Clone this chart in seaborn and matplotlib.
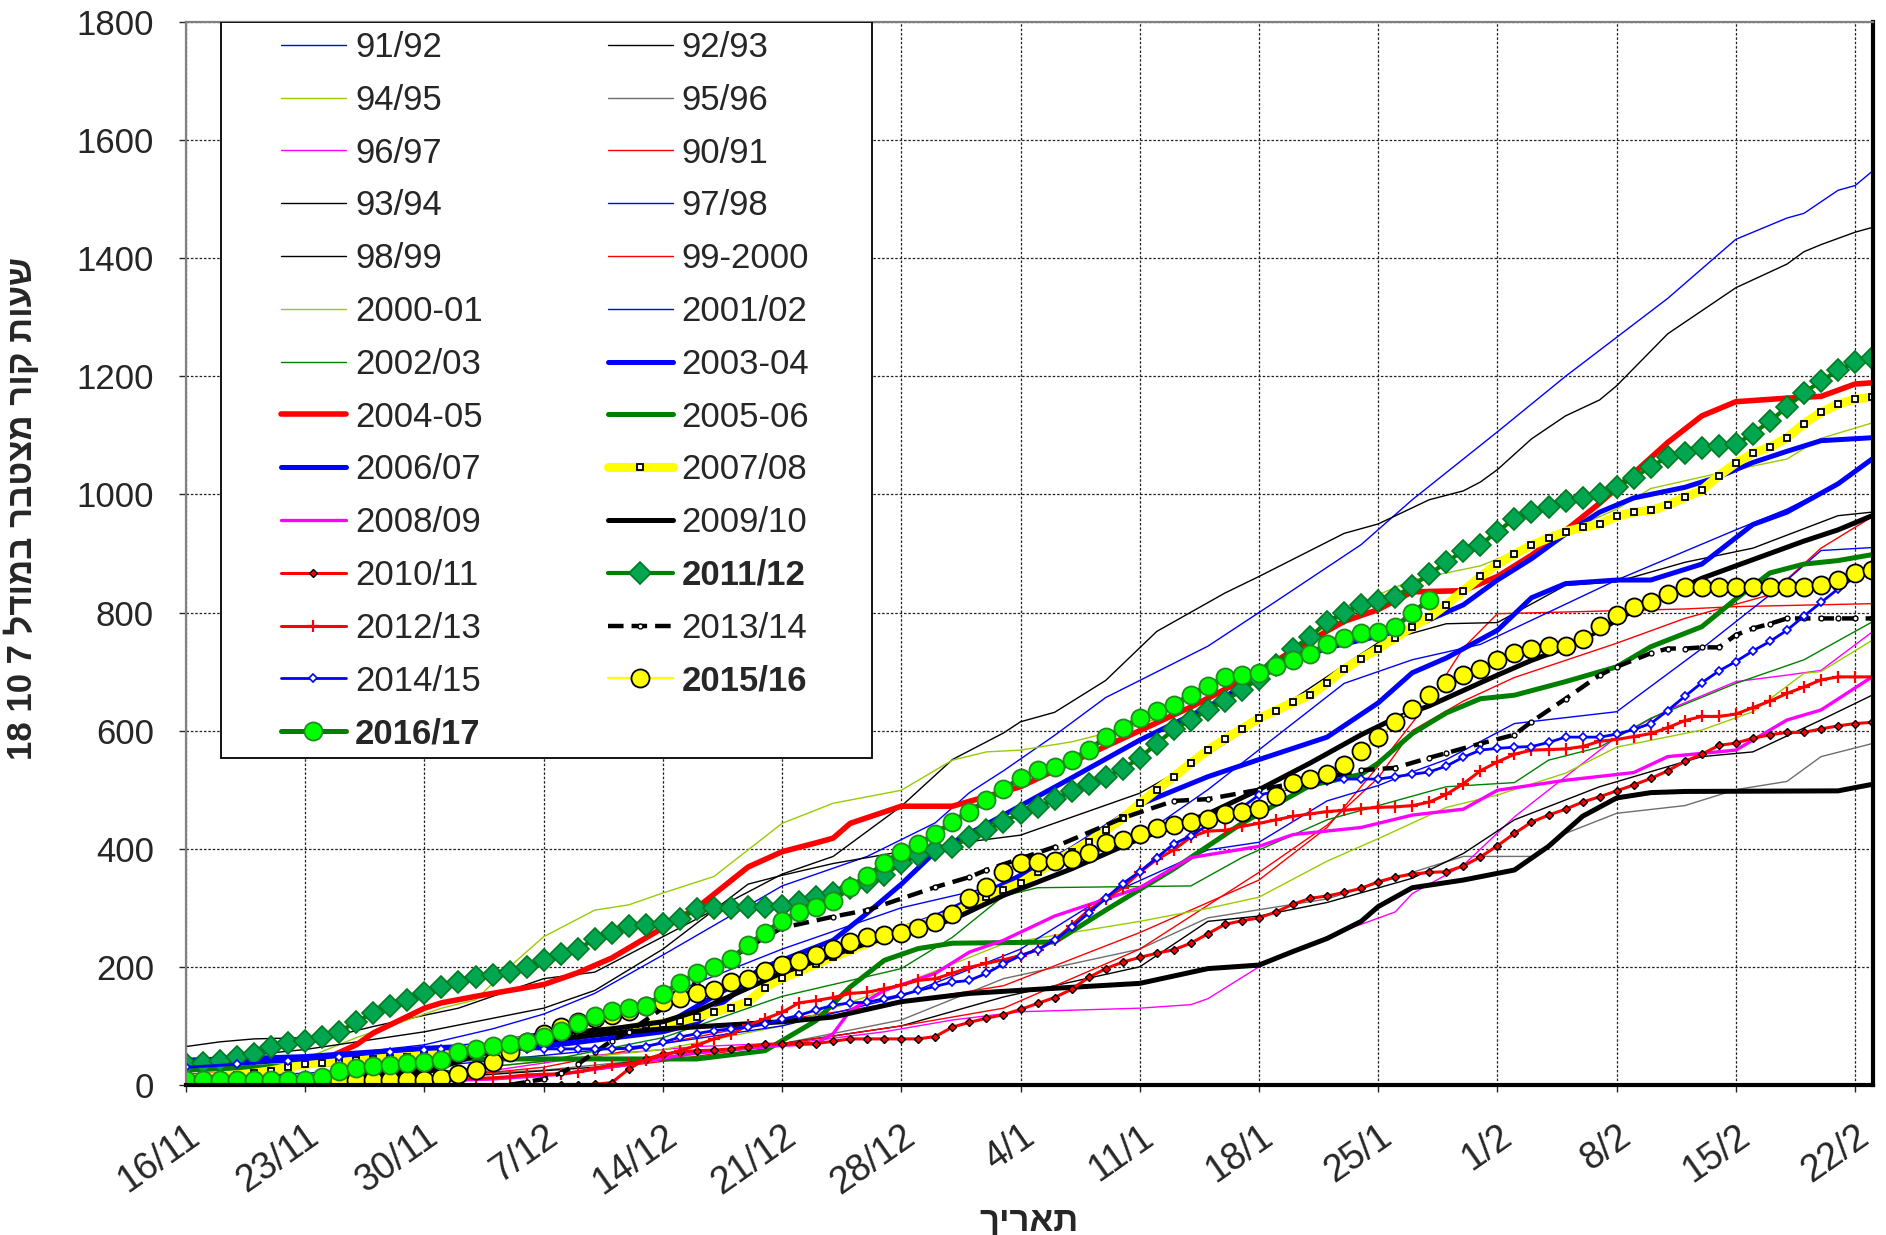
import numpy as np
import matplotlib
matplotlib.use('Agg')
import matplotlib.pyplot as plt
import matplotlib.transforms as mtransforms
from matplotlib.patches import Rectangle
import seaborn as sns

sns.set_style('white')
plt.rcParams['font.family'] = ['Liberation Sans', 'DejaVu Sans']

# ---------------- data ----------------
TICK_DAYS = [0, 7, 14, 21, 28, 35, 42, 49, 56, 63, 70, 77, 84, 91, 98]
TICK_LABELS = ['16/11', '23/11', '30/11', '7/12', '14/12', '21/12', '28/12', '4/1',
               '11/1', '18/1', '25/1', '1/2', '8/2', '15/2', '22/2']
YTICKS = [0, 200, 400, 600, 800, 1000, 1200, 1400, 1600, 1800]

D_9192 = [0, 7, 14, 18, 21, 24, 28, 35, 40, 44, 46, 48, 51, 54, 60, 64, 69, 72, 77, 81, 84, 87, 91, 94, 95, 97, 98, 99]
V_9192 = [30, 45, 68, 95, 120, 155, 220, 337, 387, 444, 495, 532, 592, 656, 743, 819, 915, 991, 1106, 1200, 1266, 1332, 1432, 1468, 1476, 1515, 1523, 1547]

D_9293 = [0, 2, 4, 7, 9, 11, 14, 16, 18, 21, 24, 28, 35, 38, 42, 45, 48, 49, 51, 54, 57, 61, 63, 68, 70, 73, 75, 76, 77, 79, 81, 83, 84, 87, 91, 94, 95, 96, 98, 99]
V_9293 = [65, 73, 78, 80, 85, 99, 118, 130, 150, 180, 191, 251, 357, 387, 472, 551, 596, 615, 631, 685, 768, 833, 861, 934, 950, 991, 1006, 1021, 1042, 1094, 1133, 1160, 1184, 1272, 1350, 1390, 1411, 1423, 1444, 1452]

D_9495 = [0, 5, 7, 10, 13, 15, 17, 19, 21, 24, 26, 28, 31, 33, 35, 38, 42, 45, 47, 49, 52, 56, 60, 63, 66, 70, 72, 76, 81, 84, 86, 90, 94, 96, 99]
V_9495 = [10, 20, 45, 80, 110, 130, 144, 200, 251, 296, 305, 325, 353, 398, 443, 477, 499, 550, 564, 567, 581, 610, 650, 700, 760, 830, 855, 879, 937, 975, 1010, 1036, 1060, 1095, 1121]

D_9596 = [0, 14, 21, 28, 35, 42, 48, 56, 60, 67, 72, 75, 79, 81, 84, 88, 91, 94, 96, 99]
V_9596 = [0, 15, 25, 45, 70, 110, 180, 230, 283, 315, 360, 387, 387, 426, 460, 473, 500, 514, 556, 578]

D_9697 = [0, 10, 17, 24, 30, 36, 41, 45, 49, 56, 59, 60, 63, 67, 71, 72, 75, 78, 81, 84, 87, 91, 94, 96, 99]
V_9697 = [0, 5, 20, 50, 65, 72, 90, 110, 124, 130, 136, 146, 200, 251, 293, 324, 372, 454, 522, 589, 635, 683, 694, 702, 767]

D_9091 = [0, 14, 21, 28, 35, 42, 48, 56, 63, 67, 70, 73, 75, 77, 88, 91, 99]
V_9091 = [0, 10, 30, 70, 110, 140, 168, 258, 347, 436, 540, 650, 740, 798, 806, 810, 815]

D_9394 = [0, 7, 14, 21, 24, 28, 33, 35, 38, 42, 46, 49, 56, 60, 64, 70, 74, 77, 81, 84, 88, 92, 97, 99]
V_9394 = [40, 60, 90, 130, 160, 230, 340, 355, 375, 395, 412, 423, 494, 560, 634, 749, 781, 783, 846, 852, 885, 909, 964, 970]

D_9798 = [0, 7, 14, 21, 28, 35, 42, 48, 56, 60, 64, 68, 72, 76, 84, 91, 94, 97, 99]
V_9798 = [25, 35, 50, 90, 150, 230, 300, 340, 420, 500, 590, 680, 720, 746, 855, 940, 975, 1018, 1060]

D_9899 = [0, 14, 24, 30, 35, 42, 48, 56, 60, 63, 67, 72, 75, 78, 83, 89, 92, 96, 99]
V_9899 = [0, 10, 30, 55, 70, 100, 149, 200, 277, 286, 309, 350, 392, 449, 505, 556, 564, 618, 660]

D_9900 = [0, 14, 21, 28, 35, 42, 48, 56, 63, 67, 70, 72, 75, 78, 84, 88, 93, 96, 99]
V_9900 = [0, 5, 15, 40, 70, 100, 130, 230, 360, 440, 520, 600, 650, 690, 748, 790, 830, 909, 962]

D_0001 = [0, 14, 28, 35, 42, 48, 56, 60, 63, 67, 70, 74, 77, 81, 84, 89, 92, 95, 96, 99]
V_0001 = [5, 20, 60, 100, 170, 239, 277, 299, 318, 379, 417, 470, 491, 528, 572, 601, 632, 697, 700, 753]

D_0102 = [0, 14, 28, 35, 42, 49, 54, 60, 63, 67, 70, 72, 74, 78, 84, 89, 93, 96, 99]
V_0102 = [10, 30, 70, 100, 150, 230, 320, 398, 411, 481, 507, 530, 551, 612, 632, 739, 830, 905, 910]

D_0203 = [0, 14, 21, 28, 35, 42, 45, 48, 50, 59, 62, 67, 74, 78, 80, 83, 86, 91, 95, 99]
V_0203 = [5, 20, 40, 80, 150, 197, 250, 320, 334, 337, 385, 449, 505, 512, 550, 572, 621, 680, 720, 784]

D_0304 = [0, 7, 14, 21, 28, 30, 32, 34, 36, 40, 44, 48, 52, 56, 60, 63, 67, 70, 72, 74, 77, 79, 81, 84, 86, 89, 92, 94, 97, 99]
V_0304 = [38, 43, 52, 65, 90, 105, 150, 195, 215, 245, 285, 340, 400, 475, 522, 551, 589, 647, 698, 723, 770, 825, 849, 855, 855, 882, 949, 970, 1018, 1060]

D_0405 = [0, 3, 6, 8, 10, 11, 14, 15, 17, 19, 21, 23, 25, 27, 30, 33, 35, 37, 38, 39, 42, 45, 49, 53, 59, 63, 65, 68, 70, 72, 75, 77, 79, 81, 83, 85, 87, 89, 91, 94, 96, 98, 99]
V_0405 = [15, 18, 28, 42, 68, 88, 130, 139, 150, 160, 170, 190, 215, 249, 300, 369, 395, 410, 418, 443, 472, 472, 505, 560, 640, 700, 736, 785, 805, 835, 837, 861, 897, 939, 985, 1036, 1088, 1133, 1157, 1163, 1166, 1187, 1189]

D_0506 = [0, 4, 8, 12, 16, 30, 34, 37, 39, 41, 43, 45, 51, 54, 58, 62, 66, 69, 70, 72, 74, 76, 78, 81, 84, 86, 89, 91, 93, 95, 97, 99]
V_0506 = [25, 30, 35, 40, 44, 44, 58, 109, 166, 211, 231, 240, 242, 296, 366, 443, 507, 526, 545, 595, 630, 654, 660, 683, 708, 742, 776, 823, 867, 882, 888, 898]

D_0607 = [0, 7, 14, 21, 28, 31, 34, 38, 40, 42, 44, 48, 52, 56, 60, 63, 67, 70, 72, 75, 77, 79, 81, 83, 85, 88, 90, 92, 94, 96, 99]
V_0607 = [42, 48, 62, 72, 100, 150, 200, 245, 291, 340, 395, 457, 520, 584, 640, 692, 740, 760, 775, 813, 855, 891, 933, 970, 994, 1012, 1030, 1054, 1073, 1091, 1096]

V_0708 = [10, 12, 14, 17, 20, 24, 30, 35, 38, 40,
          42, 44, 46, 48, 50, 53, 57, 62, 67, 72,
          76, 80, 84, 88, 90, 92, 95, 101, 104, 108,
          115, 124, 131, 141, 165, 181, 192, 205, 217, 228,
          240, 251, 262, 270, 279, 290, 305, 319, 330, 342,
          360, 378, 395, 412, 431, 452, 477, 500, 522, 545,
          567, 586, 603, 621, 634, 648, 660, 681, 704, 722,
          739, 757, 776, 792, 813, 837, 861, 882, 899, 914,
          926, 937, 944, 950, 963, 970, 973, 982, 995, 1007,
          1032, 1053, 1070, 1080, 1096, 1120, 1139, 1153, 1161, 1165]

D_0809 = [0, 10, 18, 22, 26, 30, 35, 37, 38, 39, 41, 44, 46, 48, 51, 56, 59, 63, 65, 69, 72, 75, 77, 81, 85, 87, 91, 94, 96, 99]
V_0809 = [0, 3, 10, 18, 35, 55, 67, 70, 87, 126, 160, 189, 225, 245, 286, 334, 385, 404, 424, 436, 457, 467, 499, 516, 529, 556, 567, 618, 635, 691]

D_0910 = [0, 7, 10, 14, 17, 21, 24, 28, 35, 38, 42, 46, 50, 56, 60, 63, 65, 67, 69, 70, 72, 75, 78, 80, 82, 84, 86, 88, 97, 99]
V_0910 = [10, 12, 15, 20, 50, 75, 85, 95, 107, 115, 141, 155, 162, 172, 197, 203, 226, 248, 277, 302, 334, 347, 364, 404, 455, 486, 495, 497, 498, 509]

# black thick line drawn on the chart without a legend entry
D_BLACK2 = [0, 7, 14, 17, 21, 25, 28, 30, 35, 40, 45, 48, 52, 56, 60, 63, 66, 69, 71, 73, 75, 77, 79, 81, 83, 85, 87, 89, 91, 93, 95, 97, 99]
V_BLACK2 = [5, 10, 25, 60, 85, 95, 107, 125, 190, 240, 280, 321, 366, 417, 459, 500, 545, 593, 621, 642, 668, 694, 719, 740, 770, 804, 831, 858, 879, 900, 921, 940, 964]

START_1011 = 22
V_1011 = [0, 0, 1, 4, 27, 44, 52, 56, 58, 59,
          61, 65, 69, 69, 70, 70, 74, 78, 78, 78,
          78, 78, 82, 98, 106, 113, 119, 128, 138, 148,
          162, 182, 197, 208, 216, 223, 229, 240, 256, 272,
          278, 283, 293, 306, 316, 320, 326, 333, 344, 352,
          357, 360, 361, 371, 386, 405, 426, 445, 457, 467,
          479, 488, 498, 508, 519, 532, 548, 560, 575, 579,
          587, 593, 597, 597, 603, 608, 612, 614]

V_1112 = [35, 37, 41, 47, 52, 64, 71, 75, 81, 90,
          107, 122, 134, 144, 156, 166, 175, 183, 186, 192,
          200, 212, 222, 230, 247, 257, 269, 271, 272, 281,
          298, 300, 300, 301, 301, 303, 310, 318, 325, 333,
          343, 355, 376, 389, 398, 403, 420, 432, 446, 460,
          470, 484, 497, 510, 522, 535, 554, 578, 602, 618,
          635, 650, 669, 688, 711, 739, 759, 784, 800, 813,
          820, 827, 845, 865, 885, 905, 915, 937, 959, 970,
          979, 988, 994, 1000, 1013, 1028, 1047, 1063, 1070, 1079,
          1082, 1085, 1103, 1124, 1148, 1172, 1192, 1210, 1224, 1231]

D_1213_EARLY = [0, 5, 10, 12]
V_1213_EARLY = [0, 0, 2, 5]
START_1213 = 14
V_1213 = [8, 9, 10, 11, 12, 14, 17, 18, 19, 22,
          28, 33, 36, 42, 50, 58, 67, 78, 86, 101,
          112, 123, 139, 143, 148, 155, 157, 163, 169, 177,
          180, 189, 199, 206, 212, 219, 229, 245, 270, 296,
          315, 334, 360, 382, 398, 420, 430, 431, 438, 443,
          449, 455, 459, 463, 465, 468, 470, 471, 473, 479,
          492, 510, 532, 547, 560, 567, 568, 569, 573, 582,
          585, 590, 595, 605, 617, 624, 624, 628, 639, 650,
          663, 674, 686, 691, 691, 691]

D_1314 = [19, 20, 21, 22, 23, 24, 25, 26, 28, 30, 32, 34, 35, 38, 40, 44, 46, 47, 51, 55, 58, 60, 63, 66, 69, 71, 73, 74, 76, 78, 79, 81, 83, 84, 86, 87, 88, 89, 90, 91, 92, 93, 94, 95, 96, 97, 98, 99]
V_1314 = [0, 5, 10, 20, 35, 55, 75, 90, 130, 175, 215, 250, 266, 285, 296, 335, 352, 364, 403, 452, 481, 484, 500, 515, 533, 537, 554, 562, 578, 593, 615, 654, 694, 708, 731, 739, 739, 741, 741, 762, 773, 781, 790, 790, 790, 790, 790, 790]

D_1415_EARLY = [0, 3, 6, 9, 12]
V_1415_EARLY = [30, 35, 40, 48, 56]
START_1415 = 14
V_1415 = [60, 61, 61, 61, 61, 61, 61, 61, 61, 61,
          61, 61, 62, 65, 72, 81, 87, 92, 95, 98,
          103, 111, 118, 127, 135, 139, 140, 146, 152, 160,
          167, 174, 177, 189, 205, 219, 229, 245, 267, 291,
          316, 341, 361, 385, 408, 422, 440, 455, 470, 491,
          497, 503, 510, 515, 518, 518, 518, 522, 526, 530,
          540, 555, 567, 570, 572, 573, 580, 589, 589, 589,
          594, 602, 612, 634, 658, 681, 701, 717, 735, 751,
          770, 794, 817, 840, 860, 866]

V_1516 = [3, 3, 4, 4, 5, 5, 6, 6, 7, 8,
          8, 8, 9, 9, 9, 12, 18, 25, 39, 55,
          72, 87, 98, 106, 113, 119, 126, 133, 140, 148,
          155, 160, 174, 180, 193, 203, 210, 220, 230, 242,
          251, 254, 258, 265, 276, 290, 316, 336, 360, 375,
          378, 379, 382, 393, 410, 414, 425, 435, 441, 445,
          450, 459, 462, 468, 489, 512, 518, 527, 542, 565,
          589, 614, 637, 661, 680, 694, 705, 719, 731, 739,
          743, 743, 756, 777, 796, 809, 818, 831, 843, 844,
          844, 844, 844, 844, 844, 844, 846, 855, 867, 872]

V_1617 = [8, 8, 8, 8, 8, 8, 8, 9, 14, 23,
          29, 32, 34, 37, 39, 43, 55, 61, 66, 69,
          73, 81, 92, 105, 117, 126, 130, 133, 154, 173,
          189, 199, 214, 237, 258, 278, 293, 302, 312, 335,
          353, 376, 395, 408, 425, 446, 463, 482, 501, 519,
          533, 538, 551, 567, 589, 605, 621, 634, 644, 661,
          676, 690, 695, 697, 709, 720, 730, 746, 757, 765,
          767, 776, 799, 822]


def daily(values, start=0):
    return list(np.arange(len(values)) + start)


# ---------------- styles ----------------
BLUE, BLACK, YG, GRAY, MAG, RED, GREEN, YEL = '#0000FF', '#000000', '#99CC00', '#6E6E6E', '#FF00FF', '#FF0000', '#008000', '#FFFF00'
THIN = 1.0

fig = plt.figure(figsize=(18.86, 12.35), dpi=100)
ax = fig.add_axes([0.0986, 0.1215, 0.8945, 0.8607])

handles = []
labels = []
bold_labels = {'2011/12', '2015/16', '2016/17'}


def draw(label, x, y, in_legend=True, **kw):
    sns.lineplot(x=x, y=y, ax=ax, legend=False, estimator=None, **kw)
    line = ax.lines[-1]
    if in_legend:
        handles.append(line)
        labels.append(label)
    return line


draw('91/92', D_9192, V_9192, color=BLUE, lw=THIN)
draw('92/93', D_9293, V_9293, color=BLACK, lw=THIN)
draw('94/95', D_9495, V_9495, color=YG, lw=THIN)
draw('95/96', D_9596, V_9596, color=GRAY, lw=THIN)
draw('96/97', D_9697, V_9697, color=MAG, lw=THIN)
draw('90/91', D_9091, V_9091, color=RED, lw=THIN)
draw('93/94', D_9394, V_9394, color=BLACK, lw=THIN)
draw('97/98', D_9798, V_9798, color=BLUE, lw=THIN)
draw('98/99', D_9899, V_9899, color=BLACK, lw=THIN)
draw('99-2000', D_9900, V_9900, color=RED, lw=THIN)
draw('2000-01', D_0001, V_0001, color=YG, lw=THIN)
draw('2001/02', D_0102, V_0102, color=BLUE, lw=THIN)
draw('2002/03', D_0203, V_0203, color=GREEN, lw=THIN)
draw('2003-04', D_0304, V_0304, color=BLUE, lw=3.6)
draw('2004-05', D_0405, V_0405, color=RED, lw=4.0)
draw('2005-06', D_0506, V_0506, color=GREEN, lw=3.6)
draw('2006/07', D_0607, V_0607, color=BLUE, lw=3.6)
draw('2007/08', daily(V_0708), V_0708, color=YEL, lw=6.5, marker='s', markersize=4.5,
     markerfacecolor='white', markeredgecolor='black', markeredgewidth=1.3)
draw('2008/09', D_0809, V_0809, color=MAG, lw=2.4)
draw('2009/10', D_0910, V_0910, color=BLACK, lw=3.6)
draw('', D_BLACK2, V_BLACK2, in_legend=False, color=BLACK, lw=3.6)
draw('2010/11', daily(V_1011, START_1011), V_1011, color=RED, lw=2.2, marker='D', markersize=4,
     markerfacecolor=RED, markeredgecolor='black', markeredgewidth=1.0)
draw('2011/12', daily(V_1112), V_1112, color=GREEN, lw=3.0, marker='D', markersize=11,
     markerfacecolor='#00A650', markeredgecolor='#007A1E', markeredgewidth=1.2)
draw('2012/13', D_1213_EARLY + daily(V_1213, START_1213), V_1213_EARLY + V_1213, color=RED, lw=2.2,
     marker='+', markersize=8, markeredgewidth=1.6, markeredgecolor=RED)
draw('2013/14', D_1314, V_1314, color=BLACK, lw=3.2, linestyle=(0, (3.5, 1.8)), marker='o', markersize=3.5,
     markerfacecolor='white', markeredgecolor='black', markeredgewidth=1.0)
draw('2014/15', D_1415_EARLY + daily(V_1415, START_1415), V_1415_EARLY + V_1415, color=BLUE, lw=2.0,
     marker='D', markersize=4, markerfacecolor='white', markeredgecolor=BLUE, markeredgewidth=1.2)
draw('2015/16', daily(V_1516), V_1516, color=YEL, lw=1.6, marker='o', markersize=13,
     markerfacecolor=YEL, markeredgecolor='black', markeredgewidth=1.3)
draw('2016/17', daily(V_1617), V_1617, color=GREEN, lw=3.6, marker='o', markersize=13,
     markerfacecolor='#00FF00', markeredgecolor='#1E8C1E', markeredgewidth=1.3)

# ---------------- axes ----------------
ax.set_xlim(0, 99.05)
ax.set_ylim(0, 1800)
ax.set_xticks(TICK_DAYS)
ax.set_xticklabels(TICK_LABELS, rotation=35, ha='right', va='top', rotation_mode='anchor', fontsize=27)
shift = mtransforms.ScaledTranslation(-10 / 100, -8 / 100, fig.dpi_scale_trans)
for lbl in ax.get_xticklabels():
    lbl.set_transform(lbl.get_transform() + shift)
ax.set_yticks(YTICKS)
ax.set_yticklabels([str(v) for v in YTICKS], fontsize=25)
ax.tick_params(axis='x', direction='out', length=5, width=1, pad=19, bottom=True)
ax.tick_params(axis='y', direction='out', length=5, width=1, pad=18, left=True)
ax.grid(True, color='#222222', linestyle=(0, (2, 1.5)), linewidth=0.9)
ax.set_axisbelow(True)

for side in ['left', 'top']:
    ax.spines[side].set_color('#808080')
    ax.spines[side].set_linewidth(1.6)
for side in ['right', 'bottom']:
    ax.spines[side].set_color('black')
    ax.spines[side].set_linewidth(3.0)

ylabel_txt = '18 10 7 ' + 'שעות קור מצטבר במודל'[::-1]
xlabel_txt = 'תאריך'[::-1]
ax.set_ylabel(ylabel_txt, fontsize=25, fontweight='bold')
ax.set_xlabel(xlabel_txt, fontsize=25, fontweight='bold', va='top')
ax.yaxis.set_label_coords(-0.0874, 0.542)
ax.xaxis.set_label_coords(0.5, -0.113)

# ---------------- legend ----------------
ax.add_patch(Rectangle((0.0207, 0.3076), 0.386, 0.6924, transform=ax.transAxes,
                       facecolor='white', edgecolor='black', linewidth=1.3, zorder=4.9))
order = list(range(0, len(handles), 2)) + list(range(1, len(handles), 2))
leg = ax.legend([handles[i] for i in order], [labels[i] for i in order], ncol=2,
                loc='upper left', bbox_to_anchor=(0.0563, 0.9915), frameon=False,
                fontsize=25, handlelength=1.87, handletextpad=0.26, columnspacing=3.6,
                labelspacing=0.57, borderpad=0, borderaxespad=0)
leg.set_zorder(6)
for t in leg.get_texts():
    if t.get_text() in bold_labels:
        t.set_fontweight('bold')

fig.savefig('out.png', dpi=100)
